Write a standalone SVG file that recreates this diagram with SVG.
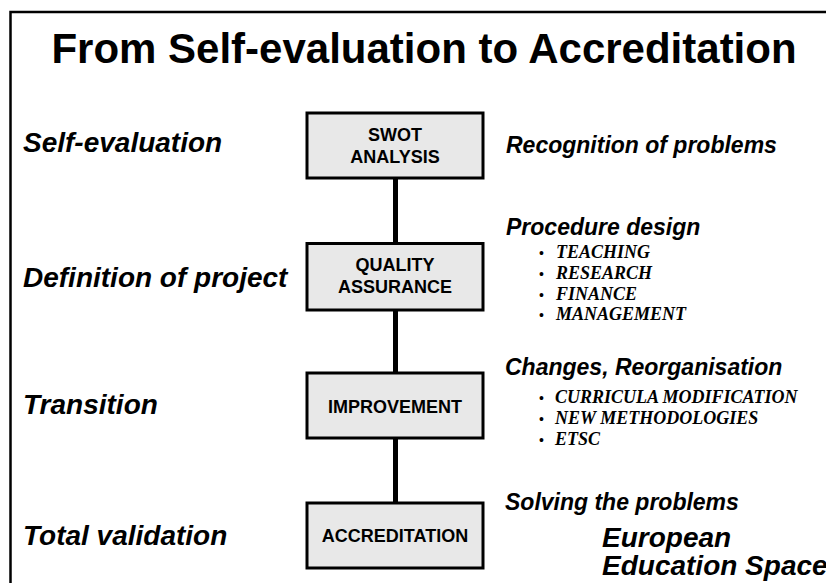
<svg xmlns="http://www.w3.org/2000/svg" width="826" height="583" viewBox="0 0 826 583">
<style>
.bi{font-family:"Liberation Sans",Arial,sans-serif;font-weight:bold;font-style:italic;fill:#000}
.box{fill:#e8e8e8;stroke:#000;stroke-width:3}
.bt{font-family:"Liberation Sans",Arial,sans-serif;font-weight:bold;font-size:18px;fill:#000;text-anchor:middle}
.ti{font-family:"Liberation Serif","Times New Roman",serif;font-weight:bold;font-style:italic;font-size:18px;fill:#000}
.bul{font-family:"Liberation Sans",Arial,sans-serif;font-size:14px;fill:#000}
.conn{stroke:#000;stroke-width:5;fill:none}
</style>
<rect width="826" height="583" fill="#fff"/>
<path d="M10.5,590 V12 H830" fill="none" stroke="#000" stroke-width="2.5"/>
<text x="424" y="63" font-family="Liberation Sans, Arial, sans-serif" font-weight="bold" font-size="42" text-anchor="middle">From Self-evaluation to Accreditation</text>

<g id="stages">
<text class="bi" x="23" y="152" font-size="28">Self-evaluation</text>
<text class="bi" x="23" y="287" font-size="28">Definition of project</text>
<text class="bi" x="23" y="414" font-size="28">Transition</text>
<text class="bi" x="23" y="545" font-size="28">Total validation</text>
</g>

<g id="connectors">
<line class="conn" x1="395.5" y1="178" x2="395.5" y2="243"/>
<line class="conn" x1="395.5" y1="310" x2="395.5" y2="373"/>
<line class="conn" x1="395.5" y1="438" x2="395.5" y2="503"/>
</g>

<g id="swot">
<rect class="box" x="307" y="113" width="176" height="65"/>
<text class="bt" x="395" y="141">SWOT</text>
<text class="bt" x="395" y="163">ANALYSIS</text>
</g>
<g id="quality">
<rect class="box" x="307" y="243.5" width="176" height="66.5"/>
<text class="bt" x="395" y="271">QUALITY</text>
<text class="bt" x="395" y="293">ASSURANCE</text>
</g>
<g id="improvement">
<rect class="box" x="307" y="373" width="176" height="65"/>
<text class="bt" x="395" y="413">IMPROVEMENT</text>
</g>
<g id="accreditation">
<rect class="box" x="307" y="503" width="176" height="65"/>
<text class="bt" x="395" y="542">ACCREDITATION</text>
</g>

<g id="notes">
<text class="bi" x="506" y="153" font-size="23">Recognition of problems</text>
<text class="bi" x="506" y="235" font-size="23">Procedure design</text>
<text class="bul" x="539" y="258">•</text><text class="ti" x="556" y="258">TEACHING</text>
<text class="bul" x="539" y="279">•</text><text class="ti" x="556" y="279">RESEARCH</text>
<text class="bul" x="539" y="300">•</text><text class="ti" x="556" y="300">FINANCE</text>
<text class="bul" x="539" y="320">•</text><text class="ti" x="556" y="320">MANAGEMENT</text>
<text class="bi" x="505" y="375" font-size="23">Changes, Reorganisation</text>
<text class="bul" x="539" y="403">•</text><text class="ti" x="555" y="403">CURRICULA MODIFICATION</text>
<text class="bul" x="539" y="424">•</text><text class="ti" x="555" y="424">NEW METHODOLOGIES</text>
<text class="bul" x="539" y="445">•</text><text class="ti" x="555" y="445">ETSC</text>
<text class="bi" x="505" y="510" font-size="23">Solving the problems</text>
<text class="bi" x="602" y="547" font-size="28">European</text>
<text class="bi" x="602" y="575" font-size="28">Education Space</text>
</g>
</svg>
